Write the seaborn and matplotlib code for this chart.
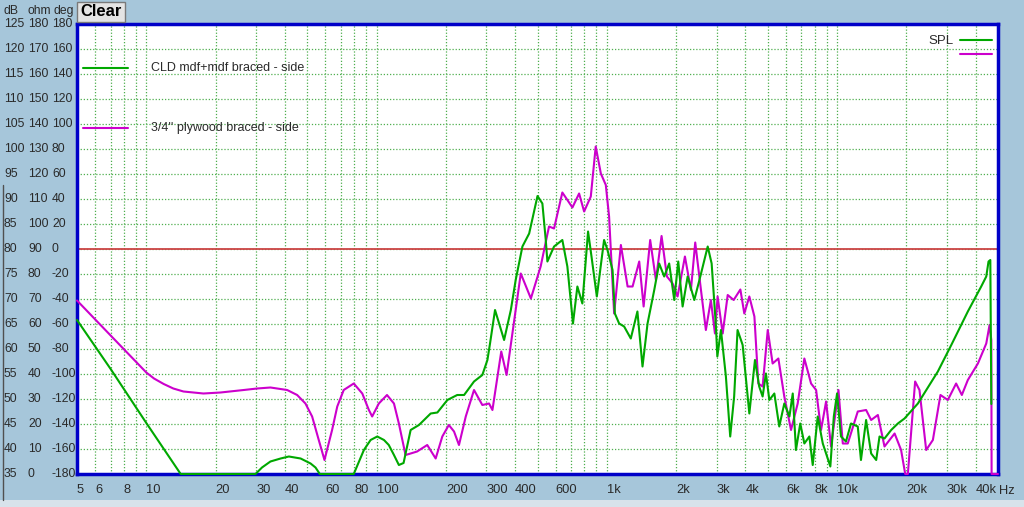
import numpy as np
import pandas as pd
import seaborn as sns
import matplotlib.pyplot as plt
from matplotlib import transforms
from matplotlib.lines import Line2D
from matplotlib.patches import Rectangle

sns.set_style("white")
plt.rcParams["font.family"] = ["Liberation Sans", "DejaVu Sans"]

# CLD mdf+mdf braced - side (green)
cld_freq = [5, 7, 10, 14.1, 29.8, 31.8, 34.6, 38.3, 41.6, 46.8, 51.7, 54.3, 56.7, 79.6, 88.1, 94.2,
            100.7, 107.7, 113, 119, 125, 131,
            140.6, 152.8, 171.8, 183.7, 203, 224, 240, 265, 288, 303, 311, 327, 358, 383, 402,
            430, 460, 500, 525, 543, 552, 590, 641, 674, 713, 745, 783, 829, 858, 905, 973,
            1007, 1059, 1084, 1131, 1189, 1271, 1358, 1429, 1503, 1607, 1688, 1775, 1866, 1963,
            2043, 2134, 2244, 2399, 2547, 2743, 2853, 2978, 3020, 3131, 3290, 3435, 3573, 3697,
            3890, 4159, 4400, 4590, 4750, 4910, 5080, 5340, 5610, 5900, 6210, 6420, 6630, 6920,
            7210, 7580, 7840, 8240, 8670, 9350, 9680, 10000, 10400, 10930, 11500, 12300, 12700,
            13370, 14060, 14790, 15290, 16070, 17180, 18370, 19630, 22440, 27400, 31340, 36980,
            42270, 44460, 45480, 46300, 46770]
cld_db = [65.8, 56.0, 45.2, 35, 35, 36.3, 37.5, 38.1, 38.5, 38.1, 37.1, 36.3, 35, 35, 39.8, 41.8,
          42.5, 41.8, 40.8, 38.8, 36.8, 37.2,
          43.8, 44.8, 47.1, 47.3, 49.8, 50.8, 50.8, 53.5, 54.8, 57.8, 61.1, 67.8, 61.8, 67.8, 73.8,
          80.5, 83.1, 90.6, 89.1, 81.8, 77.5, 80.5, 81.8, 76.5, 65.1, 72.5, 69.1, 83.5, 78.5, 70.5, 81.8,
          79.8, 75.8, 67.1, 65.1, 64.5, 62.1, 67.5, 56.5, 65.1, 71.8, 77.1, 74.5, 77.1, 69.8,
          77.5, 68.5, 74.5, 69.8, 74.5, 80.5, 77.1, 64.5, 58.5, 63.8, 54.5, 42.5, 50.5, 63.8,
          60.8, 47.1, 57.8, 52.5, 50.5, 55.1, 49.8, 51.1, 44.5, 49.1, 46.5, 51.1, 39.8, 45.1,
          41.1, 42.5, 36.8, 46.5, 41.1, 36.5, 46.5, 51.1, 42.5, 41.5, 45.1, 44.5, 37.8,
          45.8, 39.1, 37.8, 42.5, 42.1, 43.8, 45.1, 46.1, 49.1, 55.5, 60.8, 67.5,
          72.5, 74.5, 77.5, 77.8, 49.0]

# 3/4'' plywood braced - side (magenta)
ply_freq = [5, 7, 10, 10.8, 11.9, 13.1, 14.5, 17.7, 21, 26.5, 30.3, 34.6, 40.9, 45.2, 49.1, 52.5,
            56.1, 59.4, 64.1, 67.5, 72, 79.6, 86.7, 92.6, 95.7, 102.3, 111, 119, 125,
            133.6, 140.6, 150, 166, 180.6, 193, 206, 217, 228, 244, 265, 288, 308, 318.6, 348, 367,
            423, 468, 516, 561,
            590, 641, 709, 758, 797, 852, 895, 942, 990, 1023, 1076, 1151, 1231, 1294, 1383, 1445,
            1543, 1634, 1729, 1824, 1931, 2029, 2184, 2319, 2421, 2564, 2693, 2831, 2949, 3028,
            3186, 3350, 3556, 3802, 3955, 4159, 4375, 4550, 4750, 5000, 5250, 5560, 5900, 6310,
            6745, 7210, 7710, 8110, 8520, 8960, 9420, 10140, 10590, 11130, 12300, 13370, 14060,
            15040, 16070, 17780, 18970, 19770, 20300, 21830, 22800, 24380, 26070, 28120, 30270,
            32890, 34830, 36980, 40900, 44460, 45950, 46770, 46900, 50000]
ply_db = [69.7, 62.7, 55.3, 54.1, 53.0, 52.1, 51.5, 51.1, 51.3, 51.8, 52.1, 52.3, 51.8, 50.8, 49.1, 46.5,
          41.8, 37.8, 43.8, 48.5, 51.8, 53.1, 51.1, 47.8, 46.5, 49.1, 50.8, 49.1, 45.1,
          38.8, 39.1, 39.5, 40.8, 38.1, 42.5, 44.8, 43.5, 40.8, 46.5, 51.8, 48.8, 49.1, 47.8, 59.5, 54.8,
          75.1, 70.1, 76.5, 84.5,
          84.1, 91.3, 88.3, 91.1, 87.5, 90.5, 100.5, 95.1, 92.8, 86.5, 67.1, 80.8, 72.5, 72.5, 77.5, 68.5,
          81.8, 73.8, 82.6, 74.5, 73.1, 70.5, 78.5, 71.8, 81.3, 71.8, 63.8, 69.8, 63.1, 70.5,
          63.1, 70.8, 69.8, 71.9, 67.1, 70.5, 66.5, 53.1, 52.5, 63.8, 57.1, 58.1, 50.5, 43.8,
          49.1, 58.1, 53.1, 51.8, 43.8, 49.5, 40.5, 51.8, 41.1, 41.1, 47.5, 47.8, 45.8,
          46.8, 40.5, 43.1, 39.8, 35, 35, 53.5, 51.8, 39.8, 41.8, 50.8, 49.8,
          53.1, 50.8, 53.8, 57.1, 61.1, 64.8, 61.8, 35, 35]

# axis ticks
grid_freqs = [5, 6, 7, 8, 9, 10, 20, 30, 40, 50, 60, 70, 80, 90, 100, 200, 300, 400, 500, 600,
              700, 800, 900, 1000, 2000, 3000, 4000, 5000, 6000, 7000, 8000, 9000, 10000,
              20000, 30000, 40000, 50000]
freq_labels = ["5", "6", "", "8", "", "10", "20", "30", "40", "", "60", "", "80", "", "100", "200",
               "300", "400", "", "600", "", "", "", "1k", "2k", "3k", "4k", "", "6k", "", "8k", "",
               "10k", "20k", "30k", "40k", ""]
db_ticks = [125, 120, 115, 110, 105, 100, 95, 90, 85, 80, 75, 70, 65, 60, 55, 50, 45, 40, 35]
ohm_labels = ["180", "170", "160", "150", "140", "130", "120", "110", "100", "90", "80", "70",
              "60", "50", "40", "30", "20", "10", "0"]
deg_labels = ["180", "160", "140", "120", "100", "80", "60", "40", "20", "0", "-20", "-40",
              "-60", "-80", "-100", "-120", "-140", "-160", "-180"]

green = "#00A800"
magenta = "#CC00CC"
bg = "#A6C6DA"
txt = "#2A2A2A"
lw = 1.5

W, H = 1024, 507
fig = plt.figure(figsize=(W / 100, H / 100), dpi=100, facecolor=bg)
ax = fig.add_axes([77 / W, 1 - 474 / H, 921 / W, 450 / H])
ax.set_facecolor("white")

df_cld = pd.DataFrame({"freq": cld_freq, "db": cld_db})
df_ply = pd.DataFrame({"freq": ply_freq, "db": ply_db})
sns.lineplot(data=df_ply, x="freq", y="db", ax=ax, color=magenta, lw=lw, sort=False,
             estimator=None, zorder=3, clip_on=False)
sns.lineplot(data=df_cld, x="freq", y="db", ax=ax, color=green, lw=lw, sort=False,
             estimator=None, zorder=3.1, clip_on=False)

ax.set_xscale("log")
ax.set_xlim(5, 50000)
ax.set_ylim(35, 125)
ax.set_xticks(grid_freqs)
ax.set_xticklabels(freq_labels, fontsize=9.3, color=txt, ha="left")
ax.xaxis.set_minor_locator(plt.NullLocator())
ax.set_yticks(db_ticks)
ax.set_yticklabels([])
ax.tick_params(length=0, pad=7)
ax.set_xlabel("")
ax.set_ylabel("")
ax.grid(True, color="#4FAF4F", linestyle=(0, (1, 1.5)), lw=0.9)
ax.axhline(80, color="#CC4444", lw=1.3, zorder=2.5)
for s in ax.spines.values():
    s.set_color("#0000C8")
    s.set_linewidth(2.5)

# three left columns: dB, ohm, deg
tr = transforms.blended_transform_factory(fig.transFigure, ax.transData)
for i, d in enumerate(db_ticks):
    fig.text(4 / W, d, str(d), transform=tr, fontsize=8.7, color=txt, va="center")
    fig.text(28 / W, d, ohm_labels[i], transform=tr, fontsize=8.7, color=txt, va="center")
    fig.text(52 / W, d, deg_labels[i], transform=tr, fontsize=8.7, color=txt, va="center")
fig.text(4 / W, 1 - 11 / H, "dB", fontsize=8.7, color=txt, va="center")
fig.text(27 / W, 1 - 11 / H, "ohm", fontsize=8.7, color=txt, va="center")
fig.text(54 / W, 1 - 11 / H, "deg", fontsize=8.7, color=txt, va="center")
fig.text(999 / W, 1 - 491 / H, "Hz", fontsize=9.3, color=txt, va="center")

# Clear button
fig.add_artist(Rectangle((77 / W, 1 - 22 / H), 48 / W, 20 / H, transform=fig.transFigure,
                         facecolor="#E4E4E4", edgecolor="#7A7A7A", lw=1))
fig.text(101 / W, 1 - 12 / H, "Clear", fontsize=12, fontweight="bold", color="black",
         ha="center", va="center")

# bottom strip and left window edge
fig.add_artist(Rectangle((0, 0), 1, 7 / H, transform=fig.transFigure,
                         facecolor="#D8E3EB", edgecolor="none"))
fig.add_artist(Line2D([2.5 / W, 2.5 / W], [7 / H, 1 - 185 / H], transform=fig.transFigure,
                      color="#505050", lw=1))

# legend entries
ax.add_line(Line2D([0.0065, 0.0554], [0.903, 0.903], transform=ax.transAxes, color=green, lw=lw))
ax.text(0.080, 0.903, "CLD mdf+mdf braced - side", transform=ax.transAxes, fontsize=9,
        color=txt, va="center")
ax.add_line(Line2D([0.0065, 0.0554], [0.768, 0.768], transform=ax.transAxes, color=magenta, lw=lw))
ax.text(0.080, 0.768, "3/4'' plywood braced - side", transform=ax.transAxes, fontsize=9,
        color=txt, va="center")
ax.text(0.952, 0.962, "SPL", transform=ax.transAxes, fontsize=9.5, color=txt, va="center",
        ha="right")
ax.add_line(Line2D([0.9587, 0.9935], [0.9644, 0.9644], transform=ax.transAxes, color=green, lw=lw))
ax.add_line(Line2D([0.9587, 0.9935], [0.9333, 0.9333], transform=ax.transAxes, color=magenta, lw=lw))

fig.savefig("out.png", dpi=100, facecolor=bg)
